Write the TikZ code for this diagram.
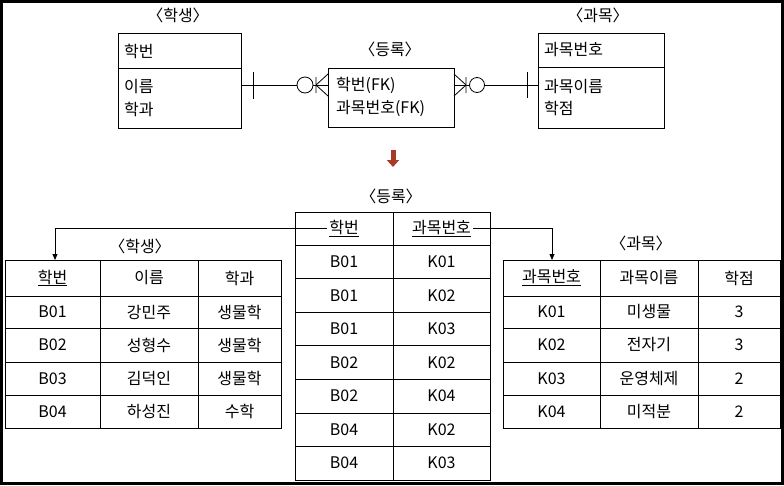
\documentclass[tikz,border=0pt]{standalone}
\usepackage{fontspec}
\setmainfont{Noto Sans CJK KR}
\usetikzlibrary{arrows.meta,positioning}
\definecolor{arrowred}{RGB}{168,58,42}

\tikzset{
	box/.style={draw, line width=0.9pt, inner sep=0pt},
	rel/.style={line width=0.8pt},
	attr/.style={anchor=west, inner sep=0pt, font=\fontsize{16}{18}\selectfont},
	title/.style={inner sep=0pt, font=\fontsize{16}{18}\selectfont},
	cell/.style={inner sep=0pt, font=\fontsize{16}{18}\selectfont},
	link/.style={line width=0.8pt, -{Triangle[length=6pt,width=5pt]}},
}

\begin{document}
\begin{tikzpicture}[x=1pt,y=-1pt]
	\useasboundingbox (0,0) rectangle (784,485);
	\draw[line width=3pt] (1.5,1.5) rectangle (782.5,483.5);
	
	% ER diagram
	\node[title] (stuT) at (178,15) {〈학생〉};
	\node[box, minimum width=123pt, minimum height=95pt] (stu) at (179.5,80.5) {};
	\draw[rel] (stu.west |- 0,68) -- (stu.east |- 0,68);
	\node[attr] (stuA) at (124,51) {학번};
	\node[attr] (stuB) at (124,87) {이름};
	\node[attr] (stuC) at (124,109) {학과};
	
	\node[title] (enrT) at (390,49) {〈등록〉};
	\node[box, minimum width=126pt, minimum height=59pt] (enr) at (391,97.5) {};
	\node[attr] (enrA) at (336,85) {학번(FK)};
	\node[attr] (enrB) at (336,108) {과목번호(FK)};
	
	\node[title] (subT) at (598,15) {〈과목〉};
	\node[box, minimum width=126pt, minimum height=95pt] (sub) at (601,80.5) {};
	\draw[rel] (sub.west |- 0,67) -- (sub.east |- 0,67);
	\node[attr] (subA) at (544,50) {과목번호};
	\node[attr] (subB) at (544,87) {과목이름};
	\node[attr] (subC) at (544,108) {학점};
	
	\draw[rel] (stu.east |- 0,85) -- (enr.west |- 0,85);
	\draw[rel] (enr.east |- 0,85) -- (sub.west |- 0,85);
	\draw[rel] (253,72) -- (253,99);
	\draw[rel] (316,85) -- (328,74) (316,85) -- (328,96) (316,77) -- (316,93);
	\draw[rel, fill=white] (305,85) circle (8pt);
	\draw[rel] (466,85) -- (454,74) (466,85) -- (454,96) (466,77) -- (466,93);
	\draw[rel, fill=white] (477,85) circle (7.5pt);
	\draw[rel] (527,72) -- (527,98);
	
	\draw[arrowred, line width=5pt, -{Triangle[length=7pt,width=12pt]}] (393,150) -- (393,167);
	
	% enrollment table
	\node[title] (eT) at (391,196) {〈등록〉};
	\draw[box] (295,212) rectangle (490,480);
	\draw[rel] (393,212) -- (393,480);
	\draw[rel] (295,245) -- (490,245) (295,278.6) -- (490,278.6) (295,312.1) -- (490,312.1)
		(295,345.7) -- (490,345.7) (295,379.3) -- (490,379.3) (295,412.9) -- (490,412.9)
		(295,446.4) -- (490,446.4);
	\node[cell] (eHak) at (344,228.5) {\underline{학번}};
	\node[cell] (eGwa) at (441.5,228.5) {\underline{과목번호}};
	\node[cell] (e1a) at (344,262) {B01};  \node[cell] (e1b) at (441.5,262) {K01};
	\node[cell] (e2a) at (344,295.5) {B01};  \node[cell] (e2b) at (441.5,295.5) {K02};
	\node[cell] (e3a) at (344,329) {B01};  \node[cell] (e3b) at (441.5,329) {K03};
	\node[cell] (e4a) at (344,362.5) {B02};  \node[cell] (e4b) at (441.5,362.5) {K02};
	\node[cell] (e5a) at (344,396) {B02};  \node[cell] (e5b) at (441.5,396) {K04};
	\node[cell] (e6a) at (344,429.5) {B04};  \node[cell] (e6b) at (441.5,429.5) {K02};
	\node[cell] (e7a) at (344,463) {B04};  \node[cell] (e7b) at (441.5,463) {K03};
	
	% student table
	\node[title] (sT) at (140,246) {〈학생〉};
	\draw[box] (5,260) rectangle (281,428);
	\draw[rel] (100,260) -- (100,428) (198,260) -- (198,428);
	\draw[rel] (5,296) -- (281,296) (5,328) -- (281,328) (5,362) -- (281,362) (5,395) -- (281,395);
	\node[cell] (sHak) at (52.5,278) {\underline{학번}};
	\node[cell] (sName) at (149,278) {이름};
	\node[cell] (sDept) at (239.5,278) {학과};
	\node[cell] (s1a) at (52.5,312) {B01};  \node[cell] (s1b) at (149,312) {강민주};  \node[cell] (s1c) at (239.5,312) {생물학};
	\node[cell] (s2a) at (52.5,345) {B02};  \node[cell] (s2b) at (149,345) {성형수};  \node[cell] (s2c) at (239.5,345) {생물학};
	\node[cell] (s3a) at (52.5,378.5) {B03};  \node[cell] (s3b) at (149,378.5) {김덕인};  \node[cell] (s3c) at (239.5,378.5) {생물학};
	\node[cell] (s4a) at (52.5,411.5) {B04};  \node[cell] (s4b) at (149,411.5) {하성진};  \node[cell] (s4c) at (239.5,411.5) {수학};
	
	% subject table
	\node[title] (gT) at (641,243) {〈과목〉};
	\draw[box] (503,260) rectangle (780,428);
	\draw[rel] (600,260) -- (600,428) (698,260) -- (698,428);
	\draw[rel] (503,296) -- (780,296) (503,328) -- (780,328) (503,362) -- (780,362) (503,395) -- (780,395);
	\node[cell] (gNo) at (551.5,278) {\underline{과목번호}};
	\node[cell] (gName) at (649,278) {과목이름};
	\node[cell] (gPt) at (739,278) {학점};
	\node[cell] (g1a) at (551.5,312) {K01};  \node[cell] (g1b) at (649,312) {미생물};  \node[cell] (g1c) at (739,312) {3};
	\node[cell] (g2a) at (551.5,345) {K02};  \node[cell] (g2b) at (649,345) {전자기};  \node[cell] (g2c) at (739,345) {3};
	\node[cell] (g3a) at (551.5,378.5) {K03};  \node[cell] (g3b) at (649,378.5) {운영체제};  \node[cell] (g3c) at (739,378.5) {2};
	\node[cell] (g4a) at (551.5,411.5) {K04};  \node[cell] (g4b) at (649,411.5) {미적분};  \node[cell] (g4c) at (739,411.5) {2};
	
	% foreign keys
	\coordinate (stuIn) at (55,260);
	\coordinate (subIn) at (552,260);
	\draw[link, shorten <=2pt] (eHak.west) -| (stuIn);
	\draw[link, shorten <=2pt] (eGwa.east) -| (subIn);
\end{tikzpicture}
\end{document}
